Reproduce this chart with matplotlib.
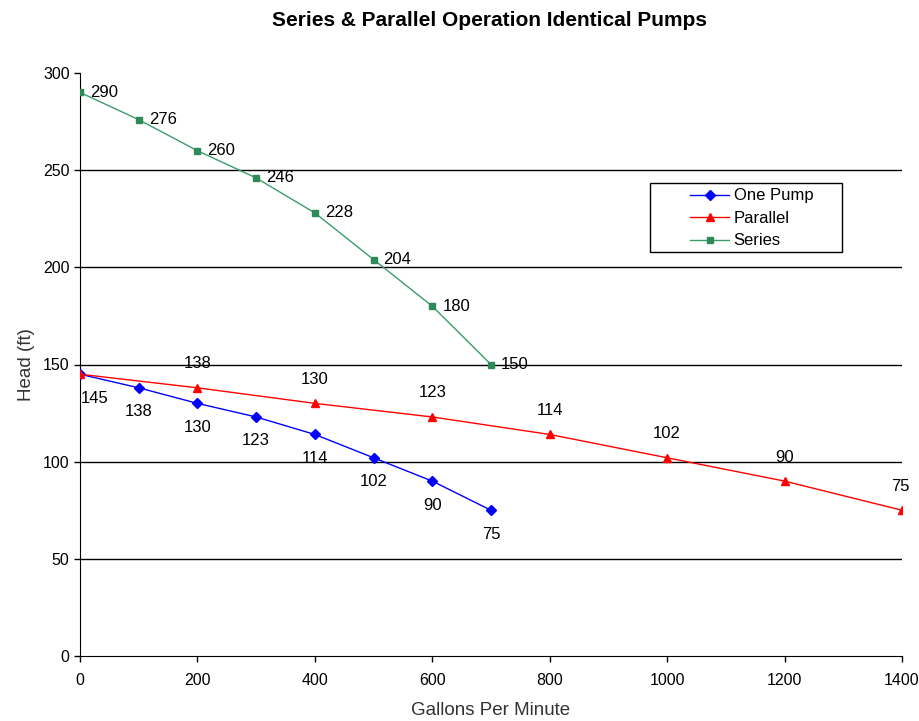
import matplotlib
matplotlib.use("Agg")
import matplotlib.pyplot as plt
from matplotlib.patches import Rectangle

plt.rcParams['font.family'] = ['Liberation Sans', 'DejaVu Sans']

# data
one_x = [0, 100, 200, 300, 400, 500, 600, 700]
one_y = [145, 138, 130, 123, 114, 102, 90, 75]
par_x = [0, 200, 400, 600, 800, 1000, 1200, 1400]
par_y = [145, 138, 130, 123, 114, 102, 90, 75]
ser_x = [0, 100, 200, 300, 400, 500, 600, 700]
ser_y = [290, 276, 260, 246, 228, 204, 180, 150]
x_ticks = [0, 200, 400, 600, 800, 1000, 1200, 1400]
y_ticks = [0, 50, 100, 150, 200, 250, 300]

fig = plt.figure(figsize=(9.2, 7.21), dpi=100)
ax = fig.add_axes([80 / 920, 65 / 721, 822 / 920, 583 / 721])

for y in y_ticks[1:-1]:
    ax.axhline(y, color='black', lw=1, zorder=1)

ax.plot(one_x, one_y, color='blue', lw=1, marker='D', ms=5, label='One Pump', zorder=3)
ax.plot(par_x, par_y, color='red', lw=1, marker='^', ms=6, label='Parallel', zorder=3)
ax.plot(ser_x, ser_y, color='#3a9d6a', lw=1, marker='s', ms=5,
        mfc='#2e8b57', mec='#2e8b57', label='Series', zorder=3)

# data labels
for i, (x, y) in enumerate(zip(one_x, one_y)):
    dx = 15 if i == 0 else 0
    ax.annotate(str(y), (x, y), xytext=(dx, -24), textcoords='offset pixels',
                ha='center', va='center', fontsize=12, annotation_clip=False)
for i, (x, y) in enumerate(zip(par_x, par_y)):
    if i == 0:
        continue
    dx = -2 if i == len(par_x) - 1 else 0
    ax.annotate(str(y), (x, y), xytext=(dx, 24), textcoords='offset pixels',
                ha='center', va='center', fontsize=12, annotation_clip=False)
for x, y in zip(ser_x, ser_y):
    ax.annotate(str(y), (x, y), xytext=(10, 0), textcoords='offset pixels',
                ha='left', va='center', fontsize=12, annotation_clip=False)

ax.set_xlim(0, 1400)
ax.set_ylim(0, 300)
ax.set_xticks(x_ticks)
ax.set_yticks(y_ticks)
ax.tick_params(direction='out', length=4, labelsize=11.5, width=1)
ax.tick_params(axis='x', pad=8)
for s in ['top', 'right']:
    ax.spines[s].set_visible(False)

ax.set_xlabel('Gallons Per Minute', fontsize=13.5, color='#333333', labelpad=10)
ax.set_ylabel('Head (ft)', fontsize=13.5, color='#333333', labelpad=6)
fig.text(490 / 920, 1 - 20 / 721, 'Series & Parallel Operation Identical Pumps',
         ha='center', va='center', fontsize=15, fontweight='bold')

# legend box (pixels 650..842 x, 183..252 y)
bx0, bx1 = (650 - 80) / 822, (842 - 80) / 822
by0, by1 = (656 - 252) / 583, (656 - 183) / 583
ax.add_patch(Rectangle((bx0, by0), bx1 - bx0, by1 - by0, transform=ax.transAxes,
                       fill=True, fc='white', ec='black', lw=1, zorder=5,
                       clip_on=False))
leg = ax.legend(loc='upper left', bbox_to_anchor=(bx0 + 37 / 822, by1 - 2 / 583),
                fontsize=12, frameon=False, borderpad=0.2, borderaxespad=0,
                handlelength=2.3, handletextpad=0.3, labelspacing=0.45)
leg.set_zorder(6)

fig.savefig('out.png', dpi=100)
